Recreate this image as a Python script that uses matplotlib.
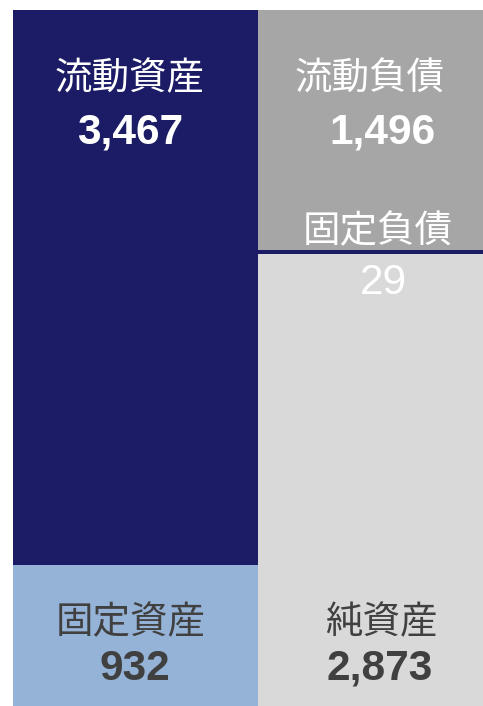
import matplotlib.pyplot as plt

plt.rcParams['font.family'] = ['Noto Sans CJK JP', 'DejaVu Sans']

# データ（貸借対照表）
asset_labels = ['固定資産', '流動資産']
asset_values = [932, 3467]
liab_labels = ['純資産', '固定負債', '流動負債']
liab_values = [2873, 29, 1496]

asset_colors = ['#95b3d7', '#1b1b66']
liab_colors = ['#d9d9d9', '#1b1b66', '#a6a6a6']

W, H = 483, 706
fig = plt.figure(figsize=(W / 100, H / 100), dpi=100)
ax = fig.add_axes([13 / W, 0, 1 - 13 / W, (H - 10) / H])

left_w = 245 / 470
bottom = 0
for v, c in zip(asset_values, asset_colors):
    ax.bar(0, v, width=left_w, bottom=bottom, color=c, align='edge', linewidth=0)
    bottom += v
bottom = 0
for v, c in zip(liab_values, liab_colors):
    ax.bar(left_w, v, width=1 - left_w, bottom=bottom, color=c, align='edge', linewidth=0)
    bottom += v

ax.set_xlim(0, 1)
ax.set_ylim(50, sum(asset_values))
ax.axis('off')

num_font = ['Liberation Sans', 'DejaVu Sans']


def name_text(x, y, s, color):
    fig.text(x / W, 1 - y / H, s, ha='center', va='center',
             fontsize=27, color=color)


def num_text(x, y, v, color, bold=True):
    fig.text(x / W, 1 - y / H, f'{v:,}', ha='center', va='center',
             fontsize=30.5, color=color, family=num_font,
             fontweight='bold' if bold else 'normal')


name_text(130, 79, asset_labels[1], 'white')
num_text(130, 133, asset_values[1], 'white')
name_text(131, 623, asset_labels[0], '#404040')
num_text(135, 669, asset_values[0], '#404040')

name_text(370, 79, liab_labels[2], 'white')
num_text(382, 133, liab_values[2], 'white')
name_text(378, 232, liab_labels[1], 'white')
num_text(383, 283, liab_values[1], 'white', bold=False)
name_text(381, 623, liab_labels[0], '#404040')
num_text(380, 669, liab_values[0], '#404040')

fig.savefig('out.png', dpi=100)
